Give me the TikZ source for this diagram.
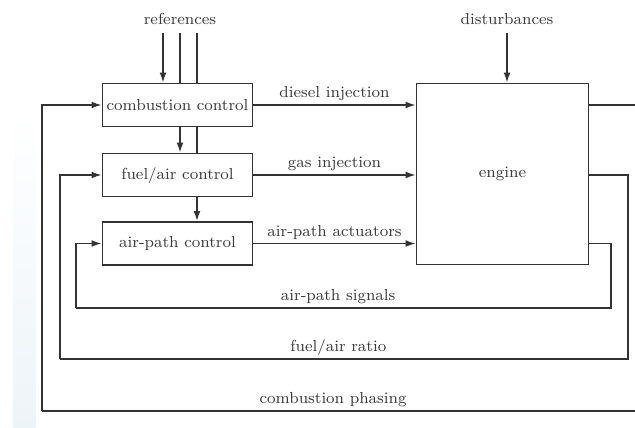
\documentclass[tikz,border=0pt]{standalone}
\usetikzlibrary{arrows.meta}
\definecolor{ink}{HTML}{333333}
\definecolor{txt}{HTML}{3A3A3A}
\definecolor{bgblue}{HTML}{EDF4F8}
\begin{document}
\begin{tikzpicture}[x=0.5pt,y=-0.5pt,
  every node/.style={font=\fontsize{8}{9.6}\selectfont, text=txt},
  blockbox/.style={draw=ink, line width=0.85pt, inner sep=0pt, anchor=center},
  ctrl/.style={blockbox, minimum width=75pt, minimum height=21.5pt},
  wire/.style={draw=ink, line width=0.75pt},
  arr/.style={wire, -{Latex[length=5pt,width=3.4pt]}},
  lab/.style={inner sep=1.5pt}]
\useasboundingbox (0,0) rectangle (635,427);
\shade[top color=white, bottom color=bgblue, draw=none] (13,110) rectangle (36,427);
% blocks
\node[ctrl] (cc) at (177.5,105) {combustion control};
\node[ctrl] (fa) at (177.5,175) {fuel/air control};
\node[ctrl] (ap) at (177.5,243.5) {air-path control};
\node[blockbox, minimum width=86pt, minimum height=90.5pt] (eng) at (502.5,174) {engine};
% top labels
\node (ref) at (180,19) {references};
\node (dist) at (507,19) {disturbances};
\coordinate (r1) at (163,33);
\coordinate (r2) at (180,33);
\coordinate (r3) at (197,33);
\coordinate (d1) at (507,33);
\draw[arr] (r1) -- (r1 |- cc.north);
\draw[wire] (r2) -- (r2 |- cc.north);
\draw[wire] (r3) -- (r3 |- cc.north);
\draw[arr] (d1) -- (d1 |- eng.north);
% between controllers
\draw[arr] (cc.south -| r2) -- (fa.north -| r2);
\draw[wire] (cc.south -| r3) -- (fa.north -| r3);
\draw[arr] (fa.south -| r3) -- (ap.north -| r3);
% forward signals
\draw[arr] (cc.east) -- node[lab, above] {diesel injection} (eng.west |- cc.east);
\draw[arr] (fa.east) -- node[lab, above] {gas injection} (eng.west |- fa.east);
\draw[arr] (ap.east) -- node[lab, above] {air-path actuators} (eng.west |- ap.east);
% feedback: air-path signals
\coordinate (apR) at (611,308);
\coordinate (apL) at (76,308);
\draw[wire] (eng.east |- ap.east) -| (apR) -- node[lab, above, pos=0.51] {air-path signals} (apL);
\draw[arr] (apL) |- (ap.west);
% feedback: fuel/air ratio
\coordinate (faR) at (628,359);
\coordinate (faL) at (60,359);
\draw[wire] (eng.east |- fa.east) -| (faR) -- node[lab, above, pos=0.51] {fuel/air ratio} (faL);
\draw[arr] (faL) |- (fa.west);
% feedback: combustion phasing
\coordinate (cpT) at (636,105);
\coordinate (cpR) at (636,411);
\coordinate (cpL) at (42,411);
\draw[wire] (eng.east |- cc.east) -- (cpT);
\draw[wire] (cpR) -- node[lab, above, pos=0.51] {combustion phasing} (cpL);
\draw[arr] (cpL) |- (cc.west);
\end{tikzpicture}
\end{document}
